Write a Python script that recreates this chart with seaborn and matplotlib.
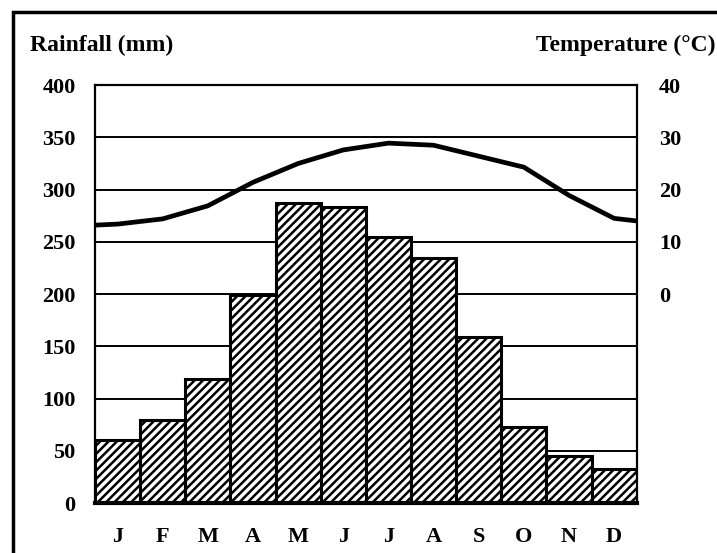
import numpy as np
import pandas as pd
import seaborn as sns
import matplotlib.pyplot as plt
from matplotlib.patches import Rectangle

# == Data == #
months = ['J', 'F', 'M', 'A', 'M', 'J', 'J', 'A', 'S', 'O', 'N', 'D']
rainfall = [60, 79, 119, 199, 287, 283, 255, 235, 159, 73, 45, 33]
temperature = [13.4, 14.4, 16.9, 21.4, 25.0, 27.6, 28.9, 28.5, 26.4, 24.3, 18.9, 14.5]
# line values at the left and right edge of the plot
temp_left_edge = 13.2
temp_right_edge = 14.0

rain_ticks = [0, 50, 100, 150, 200, 250, 300, 350, 400]
temp_ticks = [0, 10, 20, 30, 40]

df = pd.DataFrame({'idx': range(12), 'month': months, 'rain': rainfall})

sns.set_style('white')
plt.rcParams['font.family'] = ['Liberation Serif', 'DejaVu Serif']
plt.rcParams['font.weight'] = 'bold'
plt.rcParams['text.color'] = 'black'
plt.rcParams['xtick.color'] = 'black'
plt.rcParams['ytick.color'] = 'black'
plt.rcParams['hatch.linewidth'] = 1.8

fig = plt.figure(figsize=(7.17, 5.53), dpi=100)
ax = fig.add_axes([0.1325, 0.0904, 0.7555, 0.7556])

# gridlines behind bars
for v in rain_ticks[1:-1]:
    ax.axhline(v, color='black', lw=1.4, zorder=0)

sns.barplot(data=df, x='idx', y='rain', color='white', width=1.0,
            edgecolor='black', linewidth=2.2, hatch='////', ax=ax,
            zorder=2, saturation=1)

ax.set_xlim(-0.5, 11.5)
ax.set_ylim(0, 400)
ax.set_yticks(rain_ticks)
ax.set_yticklabels([str(t) for t in rain_ticks], fontsize=16, fontweight='bold')
ax.set_xticks(range(12))
ax.set_xticklabels(months, fontsize=16, fontweight='bold')
ax.tick_params(axis='y', length=0, pad=14)
ax.tick_params(axis='x', length=0, pad=17)
ax.set_xlabel('')
ax.set_ylabel('')
for s in ['left', 'right', 'top']:
    ax.spines[s].set_linewidth(1.6)
    ax.spines[s].set_color('black')
ax.spines['bottom'].set_linewidth(3)
ax.spines['bottom'].set_color('black')

# temperature on the right axis: 0..40 over rainfall 200..400
ax2 = ax.twinx()
tx = [-0.5] + list(range(12)) + [11.5]
ty = [temp_left_edge] + temperature + [temp_right_edge]
sns.lineplot(x=tx, y=ty, color='black', lw=3.4, ax=ax2, zorder=3)
ax2.set_ylim(-40, 40)
ax2.set_yticks(temp_ticks)
ax2.set_yticklabels([str(t) for t in temp_ticks], fontsize=16, fontweight='bold')
ax2.tick_params(axis='y', length=0, pad=16)
for s in ax2.spines.values():
    s.set_visible(False)

fig.text(0.042, 0.918, 'Rainfall (mm)', fontsize=17, fontweight='bold', va='center')
fig.text(0.998, 0.918, 'Temperature (°C)', fontsize=17, fontweight='bold',
         va='center', ha='right')

# outer frame around the whole graphic
fig.patches.append(Rectangle((0.018, -0.05), 1.2, 1.028, transform=fig.transFigure,
                             fill=False, edgecolor='black', lw=2.5))

fig.savefig('out.png', dpi=100)
